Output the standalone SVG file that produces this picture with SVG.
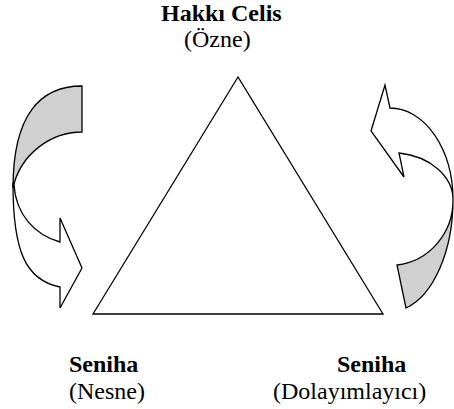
<svg xmlns="http://www.w3.org/2000/svg" width="454" height="409" viewBox="0 0 454 409">
<style>
  .shape { stroke: #000; stroke-width: 1.3; stroke-linejoin: miter; }
  .back { fill: #d0d0d0; }
  .front { fill: #fff; }
  .tri { fill: #fff; stroke: #000; stroke-width: 1.3; }
  text { font-family: "Liberation Serif", "Times New Roman", serif; font-size: 24px; fill: #000; }
  .b { font-weight: bold; }
</style>
<rect width="454" height="409" fill="#fff"/>
<g id="triangle">
  <polygon class="tri" points="238,77 93,314 383,314"/>
</g>
<g id="connectors">
  <g id="left-arrow">
    <path class="shape back" d="M82,86 C40,86 13,115 13,188 C20,155 50,132 82,132 Z"/>
    <path class="shape front" d="M13,184 C13,250 25,280 60,287 L60,308 L82,268 L60,218 L60,242 C35,235 16,215 14,185 Z"/>
  </g>
  <g id="right-arrow">
    <path class="shape back" d="M453,200 A63,112 0 0 1 406,308 L397,265 A63,65 0 0 0 453,200 Z"/>
    <path class="shape front" d="M390,108 A63,92 0 0 1 453,200 A63,47 0 0 0 399,153 L404,177 L371,131 L385,85 Z"/>
  </g>
</g>
<g id="node-subject">
  <text class="b" x="161" y="21">Hakkı Celis</text>
  <text x="184" y="47">(Özne)</text>
</g>
<g id="node-object">
  <text class="b" x="69" y="372">Seniha</text>
  <text x="69" y="399">(Nesne)</text>
</g>
<g id="node-mediator">
  <text class="b" x="337" y="372">Seniha</text>
  <text x="273" y="399">(Dolayımlayıcı)</text>
</g>
</svg>
